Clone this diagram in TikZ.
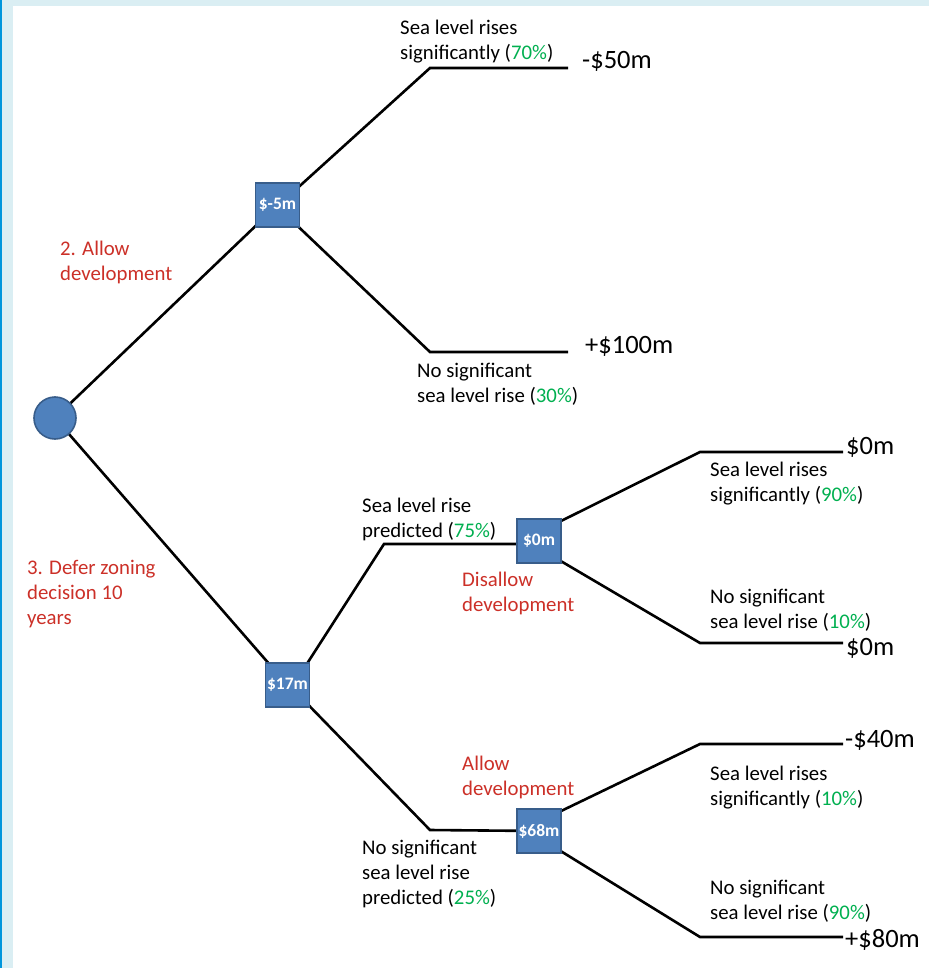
\documentclass[tikz,border=0pt]{standalone}
\usepackage{fontspec}
\setmainfont{Carlito}
\definecolor{boxfill}{HTML}{4F81BD}
\definecolor{boxedge}{HTML}{385D8A}
\definecolor{pctgreen}{HTML}{00B050}
\definecolor{optred}{RGB}{204,48,40}
\definecolor{bandblue}{HTML}{DAEEF3}
\definecolor{edgeblue}{RGB}{0,150,220}
\newcommand{\pct}[1]{(\textcolor{pctgreen}{#1})}
\tikzset{
  branch/.style={line width=2.6pt, black},
  chance/.style={rectangle, draw=boxedge, line width=1.6pt, fill=boxfill, minimum width=44pt, minimum height=44pt, inner sep=0pt, text=white, font=\fontsize{17.5}{17.5}\selectfont\bfseries},
  root/.style={circle, draw=boxedge, line width=1.6pt, fill=boxfill, minimum size=42pt, inner sep=0pt},
  lbl/.style={anchor=north west, inner sep=0pt, align=left, font=\fontsize{20.8}{25}\selectfont},
  optlbl/.style={lbl, text=optred},
  amount/.style={anchor=mid west, inner sep=0pt, font=\fontsize{26.5}{26.5}\selectfont},
}
\begin{document}
\begin{tikzpicture}[x=1pt,y=-1pt]
\useasboundingbox (0,0) rectangle (929,968);
\fill[white] (0,0) rectangle (929,968);
\fill[bandblue] (0,0) rectangle (929,6);
\fill[bandblue] (0,0) rectangle (13,968);
\fill[edgeblue] (0,0) rectangle (1.5,968);

% bend and end points
\coordinate (k1) at (430,68);  \coordinate (e1) at (568,68);
\coordinate (k2) at (430,352); \coordinate (e2) at (568,352);
\coordinate (k3) at (384,544);
\coordinate (k4) at (430,830);
\coordinate (k5) at (700,452); \coordinate (e5) at (843,452);
\coordinate (k6) at (700,643); \coordinate (e6) at (843,643);
\coordinate (k7) at (700,744); \coordinate (e7) at (843,744);
\coordinate (k8) at (700,937); \coordinate (e8) at (843,937);

% positions of nodes (drawn later on top)
\coordinate (p0) at (55,418);
\coordinate (p1) at (277.5,205);
\coordinate (p2) at (287.5,685);
\coordinate (p3) at (539,541);
\coordinate (p4) at (539,831);

% connectors
\draw[branch] (p0) -- (p1);
\draw[branch] (p0) -- (p2);
\draw[branch] (p1) ++(20,-17) coordinate (p1ne) -- (k1) -- (e1);
\draw[branch] (p1) ++(18,19) coordinate (p1se) -- (k2) -- (e2);
\draw[branch] (p2) ++(18,-19) coordinate (p2ne) -- (k3) -- (p3 |- k3);
\draw[branch] (p2) ++(20,19) coordinate (p2se) -- (k4) -- (p4);
\draw[branch] (p3) ++(20,-19) coordinate (p3ne) -- (k5) -- (e5);
\draw[branch] (p3) ++(20,19) coordinate (p3se) -- (k6) -- (e6);
\draw[branch] (p4) ++(20,-19) coordinate (p4ne) -- (k7) -- (e7);
\draw[branch] (p4) ++(20,19) coordinate (p4se) -- (k8) -- (e8);

% nodes
\node[root] (n0) at (p0) {};
\node[chance] (n1) at (p1) {\$-5m};
\node[chance] (n2) at (p2) {\$17m};
\node[chance] (n3) at (p3) {\$0m};
\node[chance] (n4) at (p4) {\$68m};

% payoffs
\node[amount] (a1) at (582,66) {-\$50m};
\node[amount] (a2) at (585,351) {+\$100m};
\node[amount] (a5) at (846,452) {\$0m};
\node[amount] (a6) at (846,653) {\$0m};
\node[amount] (a7) at (845,745) {-\$40m};
\node[amount] (a8) at (845,945) {+\$80m};

% labels
\node[lbl] (l1) at (400,19.5) {Sea level rises\\significantly \pct{70\%}};
\node[lbl] (l2) at (417,362.5) {No significant\\sea level rise \pct{30\%}};
\node[optlbl] (l3) at (60,240.5) {2. Allow\\development};
\node[optlbl] (l4) at (27,559.5) {3. Defer zoning\\decision 10\\years};
\node[lbl] (l5) at (362,497.5) {Sea level rise\\predicted \pct{75\%}};
\node[optlbl] (l6) at (462,571.5) {Disallow\\development};
\node[lbl] (l7) at (710,461.5) {Sea level rises\\significantly \pct{90\%}};
\node[lbl] (l8) at (710,588.5) {No significant\\sea level rise \pct{10\%}};
\node[optlbl] (l9) at (462,755.5) {Allow\\development};
\node[lbl] (l10) at (362,839.5) {No significant\\sea level rise\\predicted \pct{25\%}};
\node[lbl] (l11) at (710,765.5) {Sea level rises\\significantly \pct{10\%}};
\node[lbl] (l12) at (710,879.5) {No significant\\sea level rise \pct{90\%}};
\end{tikzpicture}
\end{document}
